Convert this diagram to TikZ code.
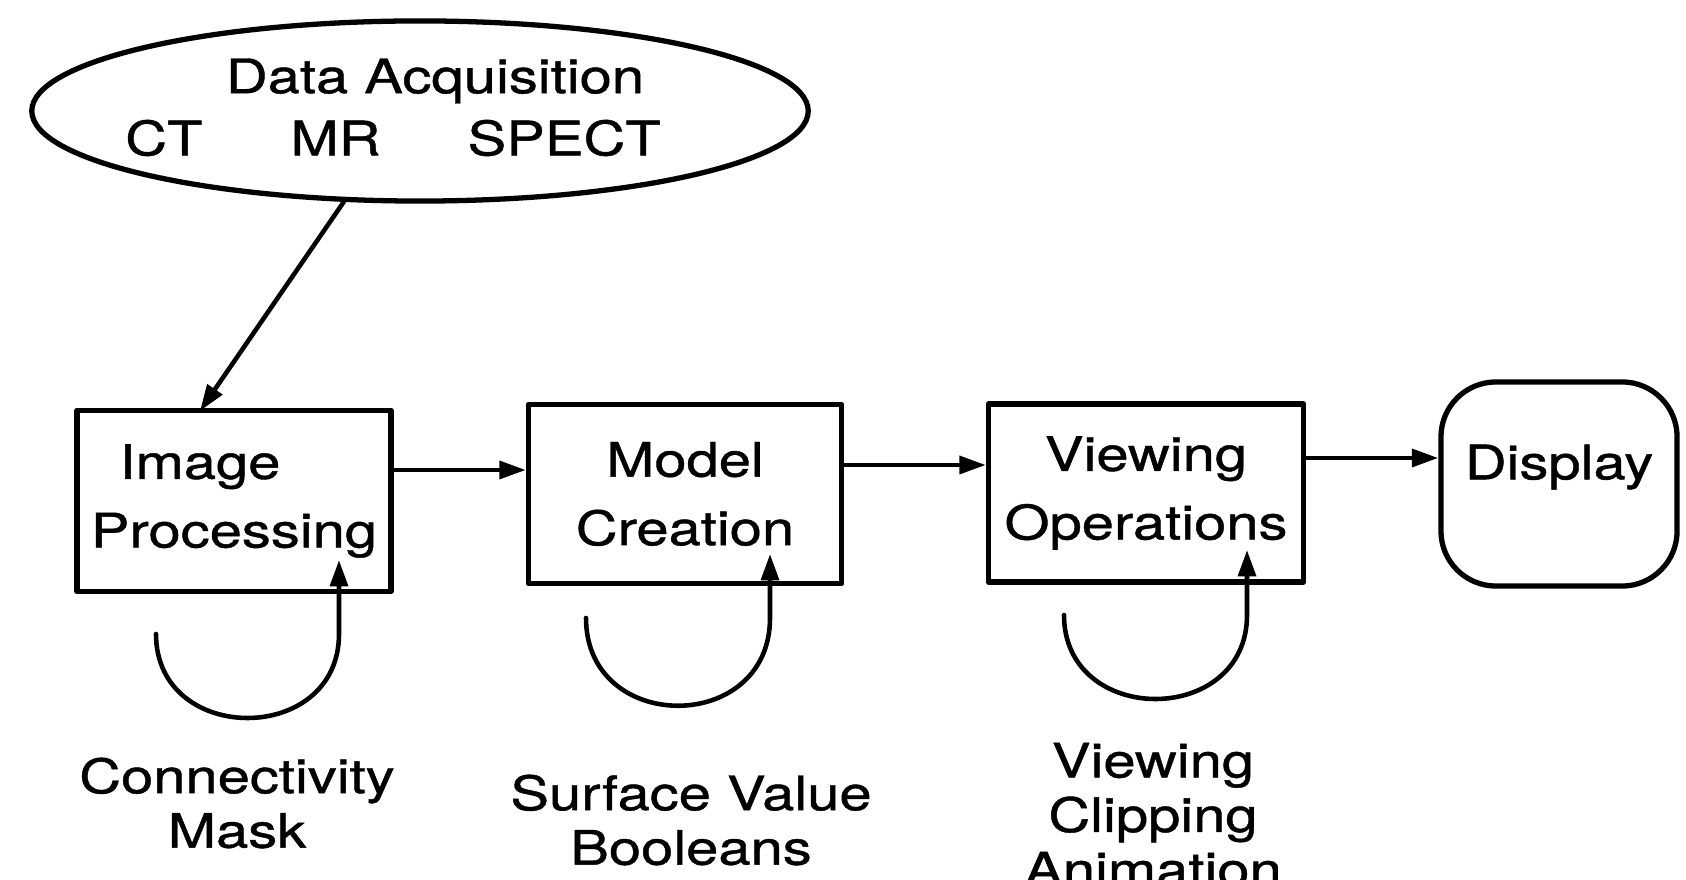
\documentclass[tikz,border=0pt]{standalone}
\usepackage{fontspec}
\setmainfont{TeX Gyre Heros}[FakeStretch=1.22, FakeBold=0.9]
\usetikzlibrary{arrows.meta}
\usetikzlibrary{calc}
\usetikzlibrary{positioning}
\usetikzlibrary{shapes.geometric}

\begin{document}
\begin{tikzpicture}[x=0.01cm, y=-0.01cm, line cap=round, line join=round,
    every node/.style={font=\fontsize{13.5}{19.5}\selectfont},
    stage/.style={draw, line width=1.5pt, inner sep=0pt, align=center},
    flow/.style={line width=1.3pt, -{Triangle[length=7.5pt,width=5pt]}},
    back/.style={line width=1.3pt, -{Triangle[length=7.5pt,width=5pt]}},
    note/.style={align=center, font=\fontsize{13.5}{15.5}\selectfont}]
    \useasboundingbox (0,0) rectangle (1686,880);

    % data acquisition
    \node[ellipse, draw, line width=1.5pt, minimum width=7.76cm, minimum height=1.8cm] (acq) at (420,111) {};
    \node (acqT) at (435,81) {Data\ Acquisition};
    \node (acqM) at (393,138) {CT\hspace{0.88cm}MR\hspace{0.87cm}SPECT};

    % pipeline
    \node[stage, minimum width=3.14cm, minimum height=1.81cm] (ip) at (234,501) {\hspace*{-0.68cm}Image\\Processing};
    \node[stage, minimum width=3.13cm, minimum height=1.79cm] (mc) at (685,494) {Model\\Creation};
    \node[stage, minimum width=3.15cm, minimum height=1.78cm] (vo) at (1146,493) {Viewing\\Operations};
    \node[stage, rounded corners=0.55cm, minimum width=2.36cm, minimum height=2.04cm, text depth=0.44cm] (disp) at (1559,484) {Display};

    \coordinate (ipIn) at (200,411);
    \draw[flow] (acq.230) -- (ipIn);

    \coordinate (h1) at (0,470);
    \coordinate (h2) at (0,465);
    \coordinate (h3) at (0,458);
    \draw[flow] (ip.east |- h1) -- (mc.west |- h1);
    \draw[flow] (mc.east |- h2) -- (vo.west |- h2);
    \draw[flow] (vo.east |- h3) -- (disp.west |- h3);

    % feedback loops
    \coordinate (ipL) at (156,634);
    \coordinate (ipR) at (339,634);
    \coordinate (ipT) at (339,560);
    \draw[back] (ipL) .. controls +(0,112) and +(0,112) .. (ipR) -- (ipT);

    \coordinate (mcL) at (586,618);
    \coordinate (mcR) at (770,618);
    \coordinate (mcT) at (770,554);
    \draw[back] (mcL) .. controls +(0,117) and +(0,117) .. (mcR) -- (mcT);

    \coordinate (voL) at (1064,615);
    \coordinate (voR) at (1247,615);
    \coordinate (voT) at (1247,550);
    \draw[back] (voL) .. controls +(0,112) and +(0,112) .. (voR) -- (voT);

    % loop labels
    \node[note] (ipN) at (237,803) {Connectivity\\Mask};
    \node[note] (mcN) at (691,820) {Surface\ Value\\Booleans};
    \node[note] (voN) at (1153,815) {Viewing\\Clipping\\Animation};

\end{tikzpicture}
\end{document}
